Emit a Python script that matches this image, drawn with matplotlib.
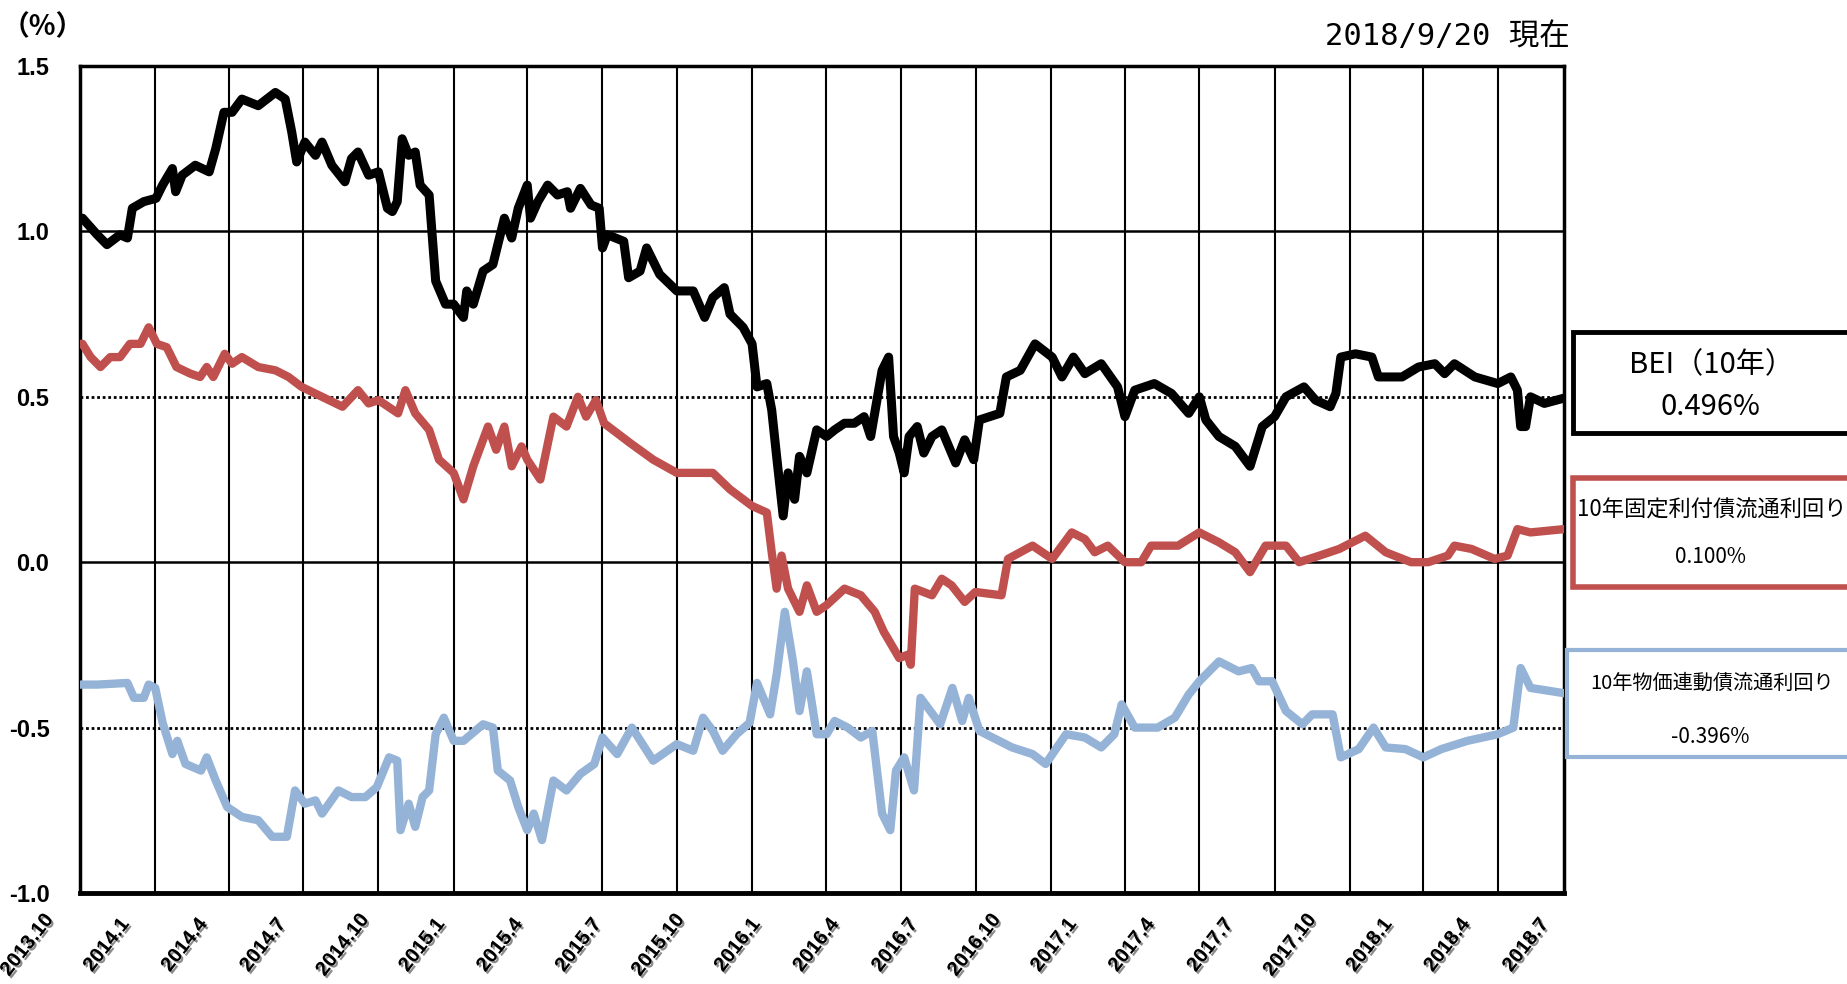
import matplotlib
matplotlib.use('Agg')
import matplotlib.pyplot as plt
import matplotlib.patheffects as pe
from matplotlib.patches import Rectangle
from matplotlib.transforms import ScaledTranslation
import pandas as pd

plt.rcParams['font.family'] = ['Liberation Sans', 'Noto Sans CJK JP']

# BEI(10年)
bei_dates = ['2013-10-01', '2013-10-04', '2013-10-22', '2013-11-03', '2013-11-19', '2013-11-28',
             '2013-12-04', '2013-12-18', '2014-01-02', '2014-01-10', '2014-01-22', '2014-01-26',
             '2014-02-03', '2014-02-19', '2014-03-08', '2014-03-16', '2014-03-26', '2014-04-05',
             '2014-04-17', '2014-05-07', '2014-05-28', '2014-06-09', '2014-06-17', '2014-06-23',
             '2014-07-03', '2014-07-16', '2014-07-24', '2014-08-05', '2014-08-21', '2014-08-29',
             '2014-09-06', '2014-09-19', '2014-10-01', '2014-10-12', '2014-10-18', '2014-10-24',
             '2014-10-30', '2014-11-07', '2014-11-15', '2014-11-21', '2014-12-02', '2014-12-10',
             '2014-12-22', '2015-01-01', '2015-01-13', '2015-01-17', '2015-01-25', '2015-02-06',
             '2015-02-18', '2015-03-04', '2015-03-13', '2015-03-21', '2015-04-01', '2015-04-05',
             '2015-04-14', '2015-04-26', '2015-05-08', '2015-05-20', '2015-05-24', '2015-06-05',
             '2015-06-18', '2015-06-28', '2015-07-02', '2015-07-08', '2015-07-28', '2015-08-03',
             '2015-08-17', '2015-08-25', '2015-09-10', '2015-10-01', '2015-10-21', '2015-11-04',
             '2015-11-14', '2015-11-28', '2015-12-05', '2015-12-21', '2016-01-01', '2016-01-07',
             '2016-01-19', '2016-01-25', '2016-01-31', '2016-02-08', '2016-02-14', '2016-02-22',
             '2016-02-28', '2016-03-08', '2016-03-20', '2016-04-01', '2016-04-11', '2016-04-23',
             '2016-05-05', '2016-05-17', '2016-05-25', '2016-06-08', '2016-06-16', '2016-06-22',
             '2016-06-29', '2016-07-05', '2016-07-11', '2016-07-21', '2016-07-29', '2016-08-08',
             '2016-08-20', '2016-09-06', '2016-09-17', '2016-09-28', '2016-10-05', '2016-10-30',
             '2016-11-07', '2016-11-24', '2016-12-12', '2017-01-02', '2017-01-14', '2017-01-28',
             '2017-02-11', '2017-03-03', '2017-03-23', '2017-04-01', '2017-04-13', '2017-05-07',
             '2017-05-28', '2017-06-18', '2017-07-01', '2017-07-09', '2017-07-25', '2017-08-14',
             '2017-09-01', '2017-09-16', '2017-10-01', '2017-10-15', '2017-11-06', '2017-11-20',
             '2017-12-08', '2017-12-15', '2017-12-21', '2018-01-08', '2018-01-28', '2018-02-05',
             '2018-03-06', '2018-03-26', '2018-04-15', '2018-04-27', '2018-05-09', '2018-06-03',
             '2018-07-01', '2018-07-17', '2018-07-25', '2018-07-29', '2018-08-04', '2018-08-10',
             '2018-08-27', '2018-09-20']
bei_vals = [1.04, 1.04, 0.99, 0.96, 0.99, 0.98,
            1.07, 1.09, 1.10, 1.14, 1.19, 1.12,
            1.17, 1.20, 1.18, 1.25, 1.36, 1.36,
            1.40, 1.38, 1.42, 1.40, 1.30, 1.21,
            1.27, 1.23, 1.27, 1.20, 1.15, 1.22,
            1.24, 1.17, 1.18, 1.07, 1.06, 1.09,
            1.28, 1.23, 1.24, 1.14, 1.11, 0.85,
            0.78, 0.78, 0.74, 0.82, 0.78, 0.88,
            0.90, 1.04, 0.98, 1.07, 1.14, 1.04,
            1.09, 1.14, 1.11, 1.12, 1.07, 1.13,
            1.08, 1.07, 0.95, 0.99, 0.97, 0.86,
            0.88, 0.95, 0.87, 0.82, 0.82, 0.74,
            0.80, 0.83, 0.75, 0.71, 0.66, 0.53,
            0.54, 0.46, 0.32, 0.14, 0.27, 0.19,
            0.32, 0.27, 0.40, 0.38, 0.40, 0.42,
            0.42, 0.44, 0.38, 0.58, 0.62, 0.38,
            0.33, 0.27, 0.38, 0.41, 0.33, 0.38,
            0.40, 0.30, 0.37, 0.31, 0.43, 0.45,
            0.56, 0.58, 0.66, 0.62, 0.56, 0.62,
            0.57, 0.60, 0.53, 0.44, 0.52, 0.54,
            0.51, 0.45, 0.50, 0.43, 0.38, 0.35,
            0.29, 0.41, 0.44, 0.50, 0.53, 0.49,
            0.47, 0.51, 0.62, 0.63, 0.62, 0.56,
            0.56, 0.59, 0.60, 0.57, 0.60, 0.56,
            0.54, 0.56, 0.52, 0.41, 0.41, 0.50,
            0.48, 0.496]

# 10年固定利付債流通利回り
jgb_dates = ['2013-10-01', '2013-10-04', '2013-10-14', '2013-10-26', '2013-11-07', '2013-11-19',
             '2013-12-01', '2013-12-14', '2013-12-24', '2014-01-03', '2014-01-15', '2014-01-27',
             '2014-02-13', '2014-02-25', '2014-03-05', '2014-03-13', '2014-03-27', '2014-04-05',
             '2014-04-17', '2014-05-07', '2014-05-28', '2014-06-13', '2014-06-29', '2014-07-24',
             '2014-08-18', '2014-09-06', '2014-09-19', '2014-10-01', '2014-10-25', '2014-11-03',
             '2014-11-15', '2014-12-02', '2014-12-14', '2015-01-01', '2015-01-13', '2015-01-25',
             '2015-02-12', '2015-02-22', '2015-03-04', '2015-03-13', '2015-03-25', '2015-04-01',
             '2015-04-17', '2015-05-03', '2015-05-19', '2015-06-02', '2015-06-12', '2015-06-24',
             '2015-07-04', '2015-08-05', '2015-09-02', '2015-10-01', '2015-10-29', '2015-11-14',
             '2015-12-05', '2016-01-01', '2016-01-19', '2016-01-25', '2016-01-31', '2016-02-06',
             '2016-02-14', '2016-02-28', '2016-03-08', '2016-03-20', '2016-04-01', '2016-04-23',
             '2016-05-13', '2016-05-30', '2016-06-10', '2016-06-29', '2016-07-09', '2016-07-13',
             '2016-07-18', '2016-08-08', '2016-08-20', '2016-09-01', '2016-09-17', '2016-09-30',
             '2016-11-01', '2016-11-09', '2016-12-09', '2017-01-02', '2017-01-26', '2017-02-11',
             '2017-02-23', '2017-03-11', '2017-04-01', '2017-04-21', '2017-05-03', '2017-06-05',
             '2017-07-01', '2017-07-25', '2017-08-14', '2017-09-01', '2017-09-20', '2017-10-15',
             '2017-10-31', '2017-11-25', '2017-12-19', '2018-01-20', '2018-02-14', '2018-03-17',
             '2018-04-07', '2018-05-01', '2018-05-09', '2018-05-30', '2018-06-27', '2018-07-13',
             '2018-07-25', '2018-08-10', '2018-09-20']
jgb_vals = [0.66, 0.66, 0.62, 0.59, 0.62, 0.62,
            0.66, 0.66, 0.71, 0.66, 0.65, 0.59,
            0.57, 0.56, 0.59, 0.56, 0.63, 0.60,
            0.62, 0.59, 0.58, 0.56, 0.53, 0.50,
            0.47, 0.52, 0.48, 0.49, 0.45, 0.52,
            0.45, 0.40, 0.31, 0.27, 0.19, 0.29,
            0.41, 0.34, 0.41, 0.29, 0.35, 0.31,
            0.25, 0.44, 0.41, 0.50, 0.44, 0.49,
            0.42, 0.36, 0.31, 0.27, 0.27, 0.27,
            0.22, 0.17, 0.15, 0.03, -0.08, 0.02,
            -0.08, -0.15, -0.07, -0.15, -0.13, -0.08,
            -0.10, -0.15, -0.21, -0.29, -0.28, -0.31,
            -0.08, -0.10, -0.05, -0.07, -0.12, -0.09,
            -0.10, 0.01, 0.05, 0.01, 0.09, 0.07,
            0.03, 0.05, 0.00, 0.00, 0.05, 0.05,
            0.09, 0.06, 0.03, -0.03, 0.05, 0.05,
            0.00, 0.02, 0.04, 0.08, 0.03, 0.00,
            0.00, 0.02, 0.05, 0.04, 0.01, 0.02,
            0.10, 0.09, 0.100]

# 10年物価連動債流通利回り
jgbi_dates = ['2013-10-01', '2013-10-04', '2013-10-22', '2013-11-28', '2013-12-06', '2013-12-18',
              '2013-12-24', '2014-01-01', '2014-01-10', '2014-01-22', '2014-01-28', '2014-02-07',
              '2014-02-26', '2014-03-05', '2014-03-16', '2014-03-30', '2014-04-17', '2014-05-07',
              '2014-05-24', '2014-06-11', '2014-06-21', '2014-07-03', '2014-07-16', '2014-07-24',
              '2014-08-13', '2014-08-29', '2014-09-15', '2014-09-29', '2014-10-14', '2014-10-24',
              '2014-10-28', '2014-11-07', '2014-11-15', '2014-11-24', '2014-12-02', '2014-12-10',
              '2014-12-20', '2015-01-01', '2015-01-13', '2015-02-06', '2015-02-18', '2015-02-24',
              '2015-03-11', '2015-03-21', '2015-04-01', '2015-04-09', '2015-04-19', '2015-05-03',
              '2015-05-19', '2015-06-05', '2015-06-22', '2015-07-02', '2015-07-20', '2015-08-07',
              '2015-09-02', '2015-10-01', '2015-10-21', '2015-11-02', '2015-11-14', '2015-11-26',
              '2015-12-13', '2015-12-29', '2016-01-07', '2016-01-23', '2016-01-31', '2016-02-10',
              '2016-02-20', '2016-02-28', '2016-03-08', '2016-03-20', '2016-04-01', '2016-04-11',
              '2016-04-27', '2016-05-13', '2016-05-27', '2016-06-08', '2016-06-18', '2016-06-25',
              '2016-07-05', '2016-07-17', '2016-07-25', '2016-08-06', '2016-08-18', '2016-09-02',
              '2016-09-14', '2016-09-22', '2016-10-05', '2016-11-14', '2016-12-09', '2016-12-25',
              '2017-01-19', '2017-02-11', '2017-03-03', '2017-03-19', '2017-03-28', '2017-04-13',
              '2017-05-11', '2017-06-01', '2017-06-18', '2017-07-01', '2017-07-25', '2017-08-18',
              '2017-09-03', '2017-09-12', '2017-09-28', '2017-10-15', '2017-11-04', '2017-11-16',
              '2017-12-11', '2017-12-21', '2018-01-12', '2018-01-30', '2018-02-14', '2018-03-10',
              '2018-04-01', '2018-04-23', '2018-05-25', '2018-07-01', '2018-07-20', '2018-07-29',
              '2018-08-10', '2018-09-20']
jgbi_vals = [-0.37, -0.37, -0.37, -0.365, -0.41, -0.41,
             -0.37, -0.38, -0.485, -0.58, -0.54, -0.61,
             -0.63, -0.59, -0.66, -0.74, -0.77, -0.78,
             -0.83, -0.83, -0.69, -0.73, -0.72, -0.76,
             -0.69, -0.71, -0.71, -0.68, -0.59, -0.60,
             -0.81, -0.73, -0.80, -0.71, -0.69, -0.52,
             -0.47, -0.54, -0.54, -0.49, -0.50, -0.63,
             -0.66, -0.74, -0.81, -0.76, -0.84, -0.66,
             -0.69, -0.64, -0.61, -0.53, -0.58, -0.50,
             -0.60, -0.55, -0.57, -0.47, -0.51, -0.57,
             -0.52, -0.485, -0.365, -0.46, -0.34, -0.15,
             -0.30, -0.45, -0.33, -0.52, -0.52, -0.48,
             -0.50, -0.53, -0.51, -0.76, -0.81, -0.63,
             -0.59, -0.69, -0.41, -0.45, -0.49, -0.38,
             -0.48, -0.41, -0.51, -0.56, -0.58, -0.61,
             -0.52, -0.53, -0.56, -0.52, -0.43, -0.50,
             -0.50, -0.47, -0.40, -0.36, -0.30, -0.33,
             -0.32, -0.36, -0.36, -0.45, -0.49, -0.46,
             -0.46, -0.59, -0.565, -0.50, -0.56, -0.565,
             -0.59, -0.565, -0.54, -0.52, -0.50, -0.32,
             -0.38, -0.396]

y_ticks = [-1.0, -0.5, 0.0, 0.5, 1.0, 1.5]
x_start, x_end = '2013-10-01', '2018-09-20'
asof_text = '2018/9/20 現在'
box_titles = ['BEI（10年）', '10年固定利付債流通利回り', '10年物価連動債流通利回り']
box_values = ['0.496%', '0.100%', '-0.396%']

W, H = 1847, 984
fig = plt.figure(figsize=(W / 100, H / 100), dpi=100)
ax = fig.add_axes([80 / W, 1 - 893 / H, (1564 - 80) / W, (893 - 66) / H])

quarters = pd.date_range(x_start, '2018-07-01', freq='QS')

# grid
for d in quarters[1:]:
    ax.axvline(d, color='black', lw=1.5, zorder=1)
for v in [1.0, 0.0]:
    ax.axhline(v, color='black', lw=1.8, zorder=1)
for v in [0.5, -0.5]:
    ax.axhline(v, color='black', lw=2, ls=(0, (1, 1)), zorder=1)

ax.plot(pd.to_datetime(jgbi_dates), jgbi_vals, color='#95B3D7', lw=6, solid_joinstyle='round', zorder=3)
ax.plot(pd.to_datetime(jgb_dates), jgb_vals, color='#C0504D', lw=6, solid_joinstyle='round', zorder=4)
ax.plot(pd.to_datetime(bei_dates), bei_vals, color='black', lw=6.5, solid_joinstyle='round', zorder=5)

ax.set_xlim(pd.Timestamp(x_start), pd.Timestamp(x_end))
ax.set_ylim(-1.0, 1.5)
ax.set_yticks(y_ticks)
ax.set_yticklabels(['%.1f' % v for v in y_ticks], fontsize=17, fontweight='bold')
ax.tick_params(axis='y', length=0, pad=22)
ax.set_xticks([])
for s in ax.spines.values():
    s.set_linewidth(2.5)
ax.spines['bottom'].set_linewidth(3.5)

# x labels (excel-style, spread slightly wider than the ticks)
n = len(quarters)
for i, d in enumerate(quarters):
    dx = (-53 + 81 * i / (n - 1)) / 100
    tr = ax.get_xaxis_transform() + ScaledTranslation(dx, -0.52, fig.dpi_scale_trans)
    ax.text(d, 0, f'{d.year}.{d.month}', transform=tr, rotation=52, ha='center', va='center',
            fontsize=14.5, fontweight='bold', clip_on=False,
            path_effects=[pe.withSimplePatchShadow(offset=(1.5, -1.5), shadow_rgbFace='#808080', alpha=0.9)])

# header texts
fig.text(43 / W, 1 - 27 / H, '（%）', ha='center', va='center', fontsize=20, fontweight='bold',
         family=['Noto Sans CJK JP'])
fig.text(1570 / W, 1 - 36 / H, asof_text, ha='right', va='center', fontsize=22,
         family=['DejaVu Sans Mono', 'Noto Sans CJK JP'])

# value boxes on the right
boxes = [
    dict(x0=1573, y0=332, y1=433, ec='black', lw=3.5, t1=365, t2=407, fs1=21, fs2=21),
    dict(x0=1573, y0=478, y1=587, ec='#C0504D', lw=4, t1=510, t2=557, fs1=16, fs2=15),
    dict(x0=1567, y0=650, y1=757, ec='#95B3D7', lw=3, t1=683, t2=737, fs1=14.5, fs2=15),
]
for b, title, val in zip(boxes, box_titles, box_values):
    fig.add_artist(Rectangle((b['x0'] / W, 1 - b['y1'] / H), (1870 - b['x0']) / W, (b['y1'] - b['y0']) / H,
                             transform=fig.transFigure, facecolor='white', edgecolor=b['ec'], lw=b['lw']))
    fig.text(1712 / W, 1 - b['t1'] / H, title, ha='center', va='center', fontsize=b['fs1'],
             family=['Noto Sans CJK JP'])
    fig.text(1710 / W, 1 - b['t2'] / H, val, ha='center', va='center', fontsize=b['fs2'],
             family=['Noto Sans CJK JP'])

fig.savefig('out.png', dpi=100)
